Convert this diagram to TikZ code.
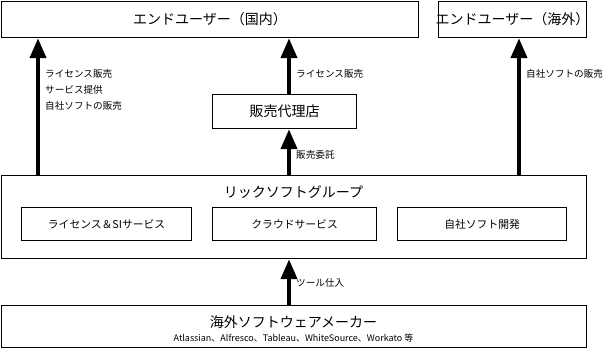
\documentclass[tikz,border=0pt]{standalone}
\usepackage{fontspec}
\setmainfont{Noto Sans CJK JP}
\usetikzlibrary{arrows.meta}
\begin{document}
\begin{tikzpicture}[x=1pt,y=-1pt,
  box/.style={draw,line width=1.2pt,inner sep=0pt,anchor=north west},
  big/.style={font=\fontsize{14}{16}\selectfont},
  mid/.style={font=\fontsize{10.8}{13}\selectfont},
  lab/.style={font=\fontsize{9.6}{11}\selectfont,anchor=west,inner sep=0pt},
  bigarrow/.style={line width=4pt,-{Triangle[width=16pt,length=20pt]}}]
\useasboundingbox (0,0) rectangle (607,354);
% boxes
\node[box,minimum width=417pt,minimum height=36pt] (endA) at (1,1) {};
\node[big] at (endA.center) {エンドユーザー（国内）};
\node[box,minimum width=148pt,minimum height=36pt] (endB) at (438,1) {};
\node[big] at (endB.center) {エンドユーザー（海外）};
\node[box,minimum width=144pt,minimum height=34pt] (agent) at (212,94) {};
\node[big] at (agent.center) {販売代理店};
\node[box,minimum width=585pt,minimum height=83pt] (group) at (1,175) {};
\node[big] (grouptitle) at (293.5,192) {リックソフトグループ};
\node[box,minimum width=170pt,minimum height=33pt] (lic) at (21,207) {};
\node[mid] at (lic.center) {ライセンス＆SIサービス};
\node[box,minimum width=164pt,minimum height=33pt] (cloud) at (212,207) {};
\node[mid] at (cloud.center) {クラウドサービス};
\node[box,minimum width=169pt,minimum height=33pt] (dev) at (397,207) {};
\node[mid] at (dev.center) {自社ソフト開発};
\node[box,minimum width=585pt,minimum height=42pt] (maker) at (1,305) {};
\node[big] (makertitle) at (293.5,322) {海外ソフトウェアメーカー};
\node[font=\fontsize{9}{10}\selectfont] (makersub) at (293.5,338) {Atlassian、Alfresco、Tableau、WhiteSource、Workato 等};
% arrow x positions
\coordinate (a1) at (38,0);
\coordinate (a2) at (289,0);
\coordinate (a3) at (519,0);
\draw[bigarrow] (group.north -| a1) -- (endA.south -| a1);
\draw[bigarrow] (agent.north -| a2) -- (endA.south -| a2);
\draw[bigarrow] (group.north -| a3) -- (endB.south -| a3);
\draw[bigarrow] (group.north -| a2) -- (agent.south -| a2);
\draw[bigarrow] (maker.north -| a2) -- (group.south -| a2);
% labels
\node[lab] (l1) at (45,74) {ライセンス販売};
\node[lab] (l2) at (45,90) {サービス提供};
\node[lab] (l3) at (45,106) {自社ソフトの販売};
\node[lab] (l4) at (296,74) {ライセンス販売};
\node[lab] (l5) at (526,74) {自社ソフトの販売};
\node[lab] (l6) at (296,155) {販売委託};
\node[lab] (l7) at (296,283) {ツール仕入};
\end{tikzpicture}
\end{document}
